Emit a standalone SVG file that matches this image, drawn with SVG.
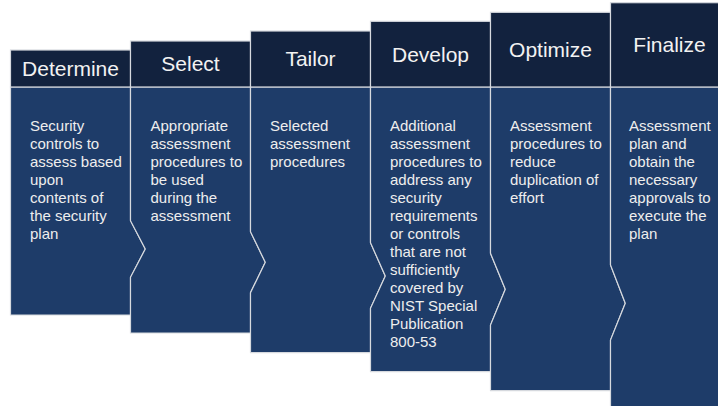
<svg xmlns="http://www.w3.org/2000/svg" width="718" height="406" viewBox="0 0 718 406">
  <style>
    .hdr { fill: #12223e; stroke: #d6d9de; stroke-width: 1.2; }
    .body { fill: #1e3c69; stroke: #d6d9de; stroke-width: 1.2; stroke-linejoin: miter; }
    .title { font-family: "Liberation Sans", Arial, sans-serif; font-size: 21px; fill: #f2f2f2; text-anchor: middle; }
    .desc { font-family: "Liberation Sans", Arial, sans-serif; font-size: 15px; fill: #eeeeee; }
  </style>
  <rect width="718" height="406" fill="#ffffff"/>

  <!-- Step 1 -->
  <g id="step-determine">
    <polygon class="body" points="10.5,87 130.5,87 130.5,220.7 145.3,249 130.5,277.3 130.5,315 10.5,315"/>
    <rect class="hdr" x="10.5" y="50" width="120" height="37"/>
    <text class="title" x="70.5" y="75.5">Determine</text>
    <text class="desc" x="30" y="130.7">
      <tspan x="30" dy="0">Security</tspan>
      <tspan x="30" dy="18">controls to</tspan>
      <tspan x="30" dy="18">assess based</tspan>
      <tspan x="30" dy="18">upon</tspan>
      <tspan x="30" dy="18">contents of</tspan>
      <tspan x="30" dy="18">the security</tspan>
      <tspan x="30" dy="18">plan</tspan>
    </text>
  </g>

  <!-- Step 2 -->
  <g id="step-select">
    <polygon class="body" points="130.5,87 250.5,87 250.5,231.7 265.3,262.3 250.5,292.7 250.5,333 130.5,333 130.5,277.3 145.3,249 130.5,220.7"/>
    <rect class="hdr" x="130.5" y="41" width="120" height="46"/>
    <text class="title" x="190.5" y="71">Select</text>
    <text class="desc" x="150.5" y="130.7">
      <tspan x="150.5" dy="0">Appropriate</tspan>
      <tspan x="150.5" dy="18">assessment</tspan>
      <tspan x="150.5" dy="18">procedures to</tspan>
      <tspan x="150.5" dy="18">be used</tspan>
      <tspan x="150.5" dy="18">during the</tspan>
      <tspan x="150.5" dy="18">assessment</tspan>
    </text>
  </g>

  <!-- Step 3 -->
  <g id="step-tailor">
    <polygon class="body" points="250.5,87 370.5,87 370.5,242.7 385.3,276 370.5,308.3 370.5,352.7 250.5,352.7 250.5,292.7 265.3,262.3 250.5,231.7"/>
    <rect class="hdr" x="250.5" y="31" width="120" height="56"/>
    <text class="title" x="310.5" y="66">Tailor</text>
    <text class="desc" x="270" y="130.7">
      <tspan x="270" dy="0">Selected</tspan>
      <tspan x="270" dy="18">assessment</tspan>
      <tspan x="270" dy="18">procedures</tspan>
    </text>
  </g>

  <!-- Step 4 -->
  <g id="step-develop">
    <polygon class="body" points="370.5,87 490.5,87 490.5,253.3 505.3,289.3 490.5,325 490.5,371.7 370.5,371.7 370.5,308.3 385.3,276 370.5,242.7"/>
    <rect class="hdr" x="370.5" y="21.3" width="120" height="65.7"/>
    <text class="title" x="430.5" y="61.5">Develop</text>
    <text class="desc" x="390" y="130.7">
      <tspan x="390" dy="0">Additional</tspan>
      <tspan x="390" dy="18">assessment</tspan>
      <tspan x="390" dy="18">procedures to</tspan>
      <tspan x="390" dy="18">address any</tspan>
      <tspan x="390" dy="18">security</tspan>
      <tspan x="390" dy="18">requirements</tspan>
      <tspan x="390" dy="18">or controls</tspan>
      <tspan x="390" dy="18">that are not</tspan>
      <tspan x="390" dy="18">sufficiently</tspan>
      <tspan x="390" dy="18">covered by</tspan>
      <tspan x="390" dy="18">NIST Special</tspan>
      <tspan x="390" dy="18">Publication</tspan>
      <tspan x="390" dy="18">800-53</tspan>
    </text>
  </g>

  <!-- Step 5 -->
  <g id="step-optimize">
    <polygon class="body" points="490.5,87 610.5,87 610.5,265 625.3,303.3 610.5,340 610.5,390.7 490.5,390.7 490.5,325 505.3,289.3 490.5,253.3"/>
    <rect class="hdr" x="490.5" y="12.3" width="120" height="74.7"/>
    <text class="title" x="550.5" y="56.5">Optimize</text>
    <text class="desc" x="510" y="130.7">
      <tspan x="510" dy="0">Assessment</tspan>
      <tspan x="510" dy="18">procedures to</tspan>
      <tspan x="510" dy="18">reduce</tspan>
      <tspan x="510" dy="18">duplication of</tspan>
      <tspan x="510" dy="18">effort</tspan>
    </text>
  </g>

  <!-- Step 6 -->
  <g id="step-finalize">
    <polygon class="body" points="610.5,87 730.5,87 730.5,410 610.5,410 610.5,340 625.3,303.3 610.5,265"/>
    <rect class="hdr" x="610.5" y="2.7" width="120" height="84.3"/>
    <text class="title" x="669.5" y="52">Finalize</text>
    <text class="desc" x="629" y="130.7">
      <tspan x="629" dy="0">Assessment</tspan>
      <tspan x="629" dy="18">plan and</tspan>
      <tspan x="629" dy="18">obtain the</tspan>
      <tspan x="629" dy="18">necessary</tspan>
      <tspan x="629" dy="18">approvals to</tspan>
      <tspan x="629" dy="18">execute the</tspan>
      <tspan x="629" dy="18">plan</tspan>
    </text>
  </g>

  <!-- step-to-step transitions are drawn by the chevron edges of the bodies -->
  <g id="connectors"></g>
</svg>
